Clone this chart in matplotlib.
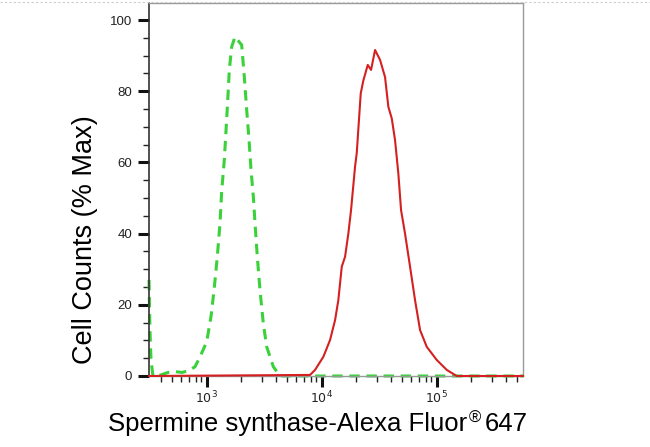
import matplotlib
matplotlib.use("Agg")
import matplotlib.pyplot as plt
from matplotlib.lines import Line2D
from matplotlib.ticker import LogLocator, MultipleLocator, FixedLocator

# isotype control (green dashed) and Spermine synthase stained (red)
green_x = [315, 321, 328, 341, 400, 461, 540, 610, 700, 791,
           875, 1000, 1090, 1157, 1236, 1305, 1350, 1422, 1472, 1523,
           1573, 1649, 1762, 2014, 2123, 2227, 2333, 2428, 2543, 2630,
           2754, 2905, 3104, 3324, 3796, 4335, 562000]
green_y = [27, 13, 4.5, 0, 0.3, 1, 1.2, 1, 1.5, 2.6,
           5.4, 9.6, 16.7, 24, 33.5, 43, 52, 60.7, 69, 77.5,
           86, 92.5, 95.3, 93, 84, 74.7, 66.3, 57.9, 50.4, 42.9,
           33.5, 24.2, 14.8, 8.2, 2.6, 0, 0]

red_x = [315, 7910, 8745, 10330, 11810, 13060, 13940, 14930, 15950, 17030,
         17980, 19480, 20150, 21830, 22990, 25120, 26840, 29080, 32140, 35510,
         37950, 40610, 43370, 46350, 48940, 53000, 58600, 64750, 71600, 81860,
         100000, 122200, 149300, 562000]
red_y = [0, 0.3, 1.7, 5.4, 10.1, 15.7, 21.3, 30.7, 33.5, 40,
         46.6, 58.8, 62.6, 79.4, 83, 87.4, 86, 91.6, 88.8, 84,
         75.6, 72.4, 66.3, 56.9, 46.6, 40, 30.7, 21.3, 12.9, 8.2,
         4.5, 1.7, 0, 0]

y_ticks = [0, 20, 40, 60, 80, 100]
x_ticks = [1e3, 1e4, 1e5]
x_tick_labels = ['$10^3$', '$10^4$', '$10^5$']

narrow = ['Liberation Sans Narrow', 'Liberation Sans', 'DejaVu Sans']
plt.rcParams['mathtext.fontset'] = 'custom'
plt.rcParams['mathtext.rm'] = 'Liberation Sans Narrow'
plt.rcParams['mathtext.it'] = 'Liberation Sans Narrow'

W, H = 650, 447
fig = plt.figure(figsize=(W / 100, H / 100), dpi=100)
ax = fig.add_axes([149 / W, 1 - 376 / H, 374 / W, 373 / H])

ax.plot(green_x, green_y, color='#3ad13a', lw=2.2, linestyle=(0, (3.4, 2.2)),
        clip_on=False, zorder=2)
ax.plot(red_x, red_y, color='#d42020', lw=1.5, clip_on=False, zorder=3)

ax.set_xscale('log')
ax.set_xlim(315, 562000)
ax.set_ylim(0, 104.8)

ax.xaxis.set_major_locator(FixedLocator(x_ticks))
ax.set_xticklabels(x_tick_labels)
ax.xaxis.set_minor_locator(LogLocator(base=10, subs=range(2, 10)))
ax.xaxis.set_minor_formatter(plt.NullFormatter())
ax.set_yticks(y_ticks)
ax.yaxis.set_minor_locator(MultipleLocator(5))

ax.tick_params(which='major', direction='out', length=8, width=2.2, color='#111111')
ax.tick_params(which='minor', direction='out', length=4.5, width=1, color='#222222')
ax.tick_params(axis='y', which='major', labelsize=9.5, pad=4)
ax.tick_params(axis='x', which='major', labelsize=9, pad=2)
for lab in ax.get_yticklabels() + ax.get_xticklabels():
    lab.set_family(narrow)
    lab.set_color('#222222')

for side in ['top', 'right', 'bottom']:
    ax.spines[side].set_color('#999999')
    ax.spines[side].set_linewidth(1)
ax.spines['left'].set_color('#333333')
ax.spines['left'].set_linewidth(1.2)

# axis titles placed by hand, as in the exported image
fig.text(85 / W, 1 - 240 / H, 'Cell Counts (% Max)', rotation=90,
         fontsize=19.5, family='Liberation Sans', ha='center', va='center')

# x title in three pieces so the registered sign sits small and raised
base = 1 - 431 / H
t1 = fig.text(0, base, 'Spermine synthase-Alexa Fluor', fontsize=18.5,
              family='Liberation Sans', va='baseline')
t2 = fig.text(0, base + 8 / H, '\u00ae', fontsize=12,
              family='Liberation Sans', va='baseline')
t3 = fig.text(0, base, '647', fontsize=18.5, family='Liberation Sans', va='baseline')
fig.canvas.draw()
r = fig.canvas.get_renderer()
w1 = t1.get_window_extent(r).width
w2 = t2.get_window_extent(r).width
w3 = t3.get_window_extent(r).width
total = w1 + 1 + w2 + 4 + w3
x0 = 318 - total / 2
t1.set_x(x0 / W)
t2.set_x((x0 + w1 + 1) / W)
t3.set_x((x0 + w1 + 1 + w2 + 4) / W)

# faint dotted page border along the top
fig.add_artist(Line2D([0, 1], [1 - 2 / H, 1 - 2 / H], transform=fig.transFigure,
                      color='#cccccc', lw=0.8, linestyle=(0, (2, 2))))

fig.savefig('out.png', dpi=100)
